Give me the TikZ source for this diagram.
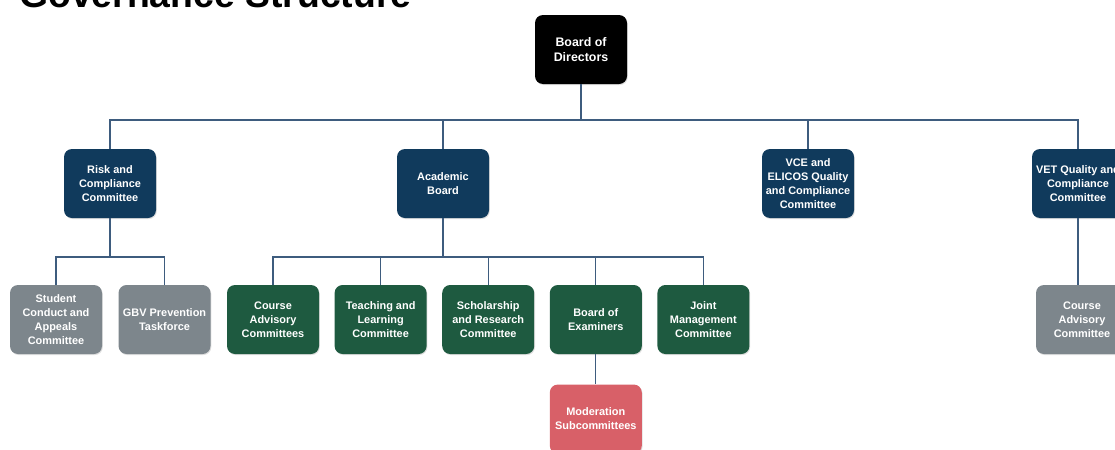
\documentclass[tikz,border=0pt]{standalone}
\usepackage{fontspec}
\setmainfont{Liberation Sans}
\usetikzlibrary{positioning,shadows}
\definecolor{govBlack}{RGB}{0,0,0}
\definecolor{govNavy}{RGB}{16,58,92}
\definecolor{govGreen}{RGB}{30,90,64}
\definecolor{govGrey}{RGB}{125,134,140}
\definecolor{govRed}{RGB}{216,96,104}
\definecolor{govLine}{RGB}{62,92,126}

\begin{document}
\begin{tikzpicture}[
  x=0.75pt, y=-0.75pt,
  node distance=11.3pt,
  unit/.style={rounded corners=6pt, align=center, minimum width=69pt,
               minimum height=51.75pt, inner sep=1pt, text=white,
               font=\bfseries\fontsize{8.2}{10.5}\selectfont,
               drop shadow={opacity=0.25, shadow xshift=0.6pt, shadow yshift=-0.8pt}},
  link/.style={draw=govLine, line width=0.8pt}
]
\useasboundingbox (0,0) rectangle (1115,450);
\clip (0,0) rectangle (1115,450);

\node[anchor=base west, inner sep=0, font=\bfseries\fontsize{28}{30}\selectfont] (title) at (19,7) {Governance Structure};

% top level
\node[unit, fill=govBlack, font=\bfseries\fontsize{9.3}{11.3}\selectfont] (board) at (581,49.5) {Board of\\Directors};

% committees under the board
\node[unit, fill=govNavy] (risk) at (110,183.5) {Risk and\\Compliance\\Committee};
\node[unit, fill=govNavy] (academic) at (443,183.5) {Academic\\Board};
\node[unit, fill=govNavy] (vce) at (808,183.5) {VCE and\\ELICOS Quality\\and Compliance\\Committee};
\node[unit, fill=govNavy] (vet) at (1078,183.5) {VET Quality and\\Compliance\\Committee};

% under risk
\node[unit, fill=govGrey] (conduct) at (56,319.5) {Student\\Conduct and\\Appeals\\Committee};
\node[unit, fill=govGrey, right=12pt of conduct] (gbv) {GBV Prevention\\Taskforce};

% under academic board
\node[unit, fill=govGreen] (cac) at (273,319.5) {Course\\Advisory\\Committees};
\node[unit, fill=govGreen, right=of cac] (tlc) {Teaching and\\Learning\\Committee};
\node[unit, fill=govGreen, right=of tlc] (src) {Scholarship\\and Research\\Committee};
\node[unit, fill=govGreen, right=of src] (exam) {Board of\\Examiners};
\node[unit, fill=govGreen, right=of exam] (jmc) {Joint\\Management\\Committee};
\node[unit, fill=govRed, below=22.5pt of exam] (moderation) {Moderation\\Subcommittees};

% under vet
\node[unit, fill=govGrey] (vetCourse) at (1082,319.5) {Course\\Advisory\\Committee};

% connectors
\coordinate (boardJoin) at (581,120);
\coordinate (riskJoin) at (110,257);
\coordinate (acadJoin) at (443,257);
\draw[link] (board) -- (boardJoin);
\draw[link] (risk.north) |- (boardJoin) -| (vet.north);
\draw[link] (academic.north) -- (academic.north |- boardJoin);
\draw[link] (vce.north) -- (vce.north |- boardJoin);
\draw[link] (risk) -- (riskJoin);
\draw[link] (conduct.north) |- (riskJoin) -| (gbv.north);
\draw[link] (academic) -- (acadJoin);
\draw[link] (cac.north) |- (acadJoin) -| (jmc.north);
\draw[link] (tlc.north) -- (tlc.north |- acadJoin);
\draw[link] (src.north) -- (src.north |- acadJoin);
\draw[link] (exam.north) -- (exam.north |- acadJoin);
\draw[link] (exam) -- (moderation);
\draw[link] (vet.south) -- (vet.south |- vetCourse.north);
\end{tikzpicture}
\end{document}
